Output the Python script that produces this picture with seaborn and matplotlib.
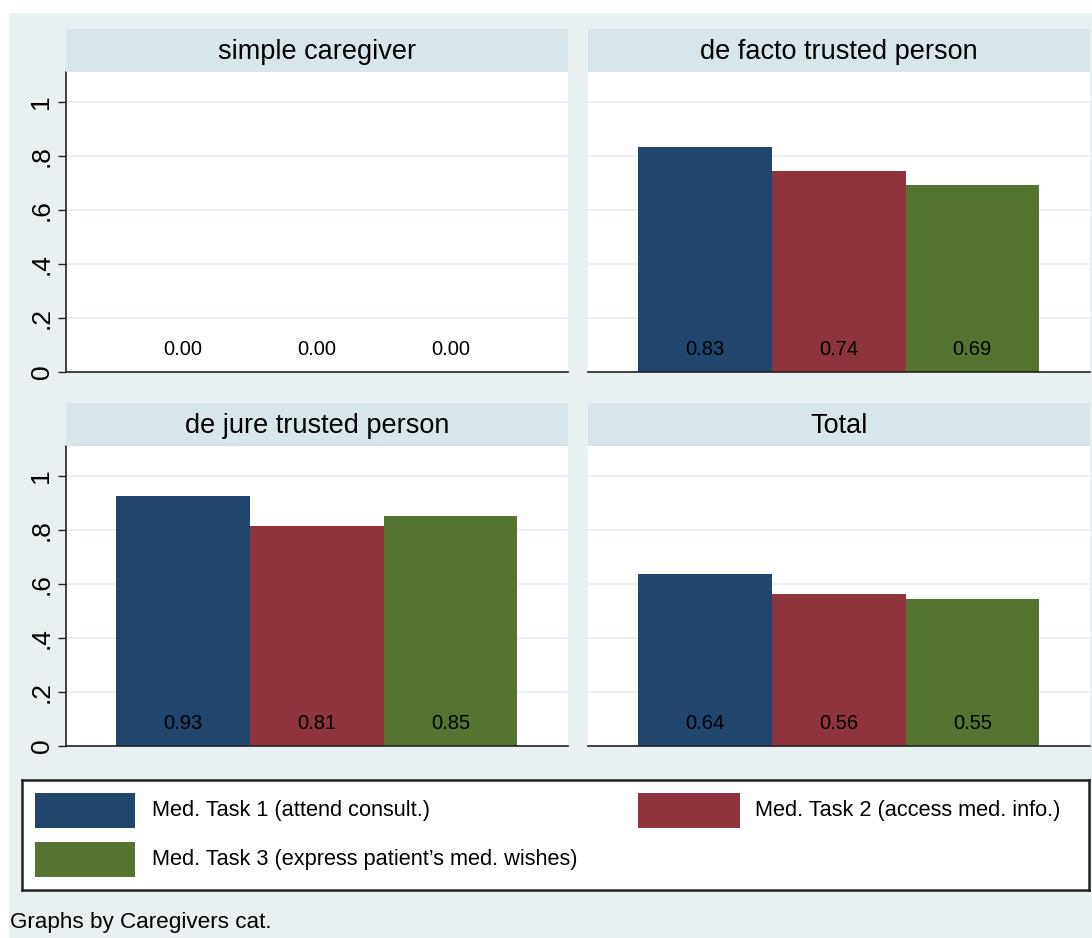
import matplotlib
matplotlib.use("Agg")
import matplotlib.pyplot as plt
import matplotlib.patches as mpatches
import seaborn as sns
import pandas as pd

panels = ["simple caregiver", "de facto trusted person", "de jure trusted person", "Total"]
tasks = ["Med. Task 1 (attend consult.)", "Med. Task 2 (access med. info.)",
         "Med. Task 3 (express patient\u2019s med. wishes)"]
task1 = [0.00, 0.833, 0.926, 0.637]
task2 = [0.00, 0.744, 0.815, 0.563]
task3 = [0.00, 0.693, 0.852, 0.544]
label1 = ["0.00", "0.83", "0.93", "0.64"]
label2 = ["0.00", "0.74", "0.81", "0.56"]
label3 = ["0.00", "0.69", "0.85", "0.55"]
yticks = [0, 0.2, 0.4, 0.6, 0.8, 1.0]
yticklabels = ["0", ".2", ".4", ".6", ".8", "1"]
colors = ["#21466e", "#8f343c", "#54742f"]

BG = "#e8f0f2"
HEAD = "#d8e5ea"
GRID = "#e6eff1"

sns.set_theme(style="white")
plt.rcParams["font.family"] = ["Liberation Sans", "DejaVu Sans"]
plt.rcParams["text.color"] = "black"
plt.rcParams["ytick.color"] = "black"

W, H = 1092, 938
fig = plt.figure(figsize=(W / 100, H / 100), dpi=100)
fig.patch.set_facecolor("white")

def fx(x): return x / W
def fy(y): return 1 - y / H

# background
fig.patches.append(mpatches.Rectangle((fx(9), 0), 1 - fx(9), fy(13), transform=fig.transFigure,
                                      facecolor=BG, edgecolor="none", zorder=-10))

rows = []
for i, p in enumerate(panels):
    for t, vals, labs in zip(tasks, [task1, task2, task3], [label1, label2, label3]):
        rows.append({"panel": p, "task": t, "value": vals[i], "label": labs[i]})
df = pd.DataFrame(rows)

lefts = [66, 588, 66, 588]
tops = [72, 72, 446, 446]
pw, ph = 502, 300

for i, p in enumerate(panels):
    x0, yt = lefts[i], tops[i]
    ax = fig.add_axes([fx(x0), fy(yt + ph), pw / W, ph / H])
    sub = df[df.panel == p]
    sns.barplot(data=sub, x="task", y="value", hue="task", order=tasks, hue_order=tasks,
                palette=colors, width=1.0, dodge=False, legend=False, ax=ax,
                saturation=1, edgecolor="none", errorbar=None)
    ax.set_xlim(-0.875, 2.88)
    ax.set_ylim(0, 1.111)
    ax.set_facecolor("white")
    ax.set_yticks(yticks)
    ax.set_xticks([])
    ax.set_xlabel("")
    ax.set_ylabel("")
    for y in yticks[1:]:
        ax.axhline(y, color=GRID, lw=1.2, zorder=0)
    for s in ["top", "right"]:
        ax.spines[s].set_visible(False)
    ax.spines["bottom"].set_color("#222222")
    ax.spines["bottom"].set_linewidth(1.2)
    if i % 2 == 0:
        ax.set_yticklabels(yticklabels, rotation=90, va="center", fontsize=19)
        ax.spines["left"].set_color("#222222")
        ax.spines["left"].set_linewidth(1.2)
        ax.tick_params(axis="y", left=True, length=6, width=1, color="#222222", pad=3)
    else:
        ax.set_yticklabels([])
        ax.spines["left"].set_visible(False)
        ax.tick_params(axis="y", left=False, length=0)
    ax.set_axisbelow(True)
    for j, (_, r) in enumerate(sub.iterrows()):
        ax.text(j, 0.085, r["label"], ha="center", va="center", fontsize=14.5, color="black")
    # header
    hax = fig.add_axes([fx(x0), fy(yt), pw / W, 43 / H])
    hax.set_facecolor(HEAD)
    hax.set_xticks([]); hax.set_yticks([])
    for s in hax.spines.values():
        s.set_visible(False)
    hax.text(0.5, 0.47, p, ha="center", va="center", fontsize=19.5, color="black",
             transform=hax.transAxes)

# legend box (manual layout, keys in pixel coordinates of the figure)
lax = fig.add_axes([fx(22), fy(890), (1089 - 22) / W, 110 / H])
lax.set_facecolor("white")
lax.set_xticks([]); lax.set_yticks([])
for s in lax.spines.values():
    s.set_color("#222222"); s.set_linewidth(1.8)

key_boxes = [(35, 793, 100, 35), (638, 793, 102, 35), (35, 842, 100, 35)]
text_x = [152, 755, 152]
for (kx, ky, kw, kh), tx, c, t in zip(key_boxes, text_x, colors, tasks):
    fig.patches.append(mpatches.Rectangle((fx(kx), fy(ky + kh)), kw / W, kh / H,
                                          transform=fig.transFigure, facecolor=c,
                                          edgecolor="none", zorder=5))
    fig.text(fx(tx), fy(ky + kh / 2), t, fontsize=15.7, va="center", ha="left",
             color="black", zorder=6)

fig.text(fx(10), fy(922), "Graphs by Caregivers cat.", fontsize=16.2, va="center", ha="left",
         color="black")

fig.savefig("out.png", dpi=100, facecolor="white")
